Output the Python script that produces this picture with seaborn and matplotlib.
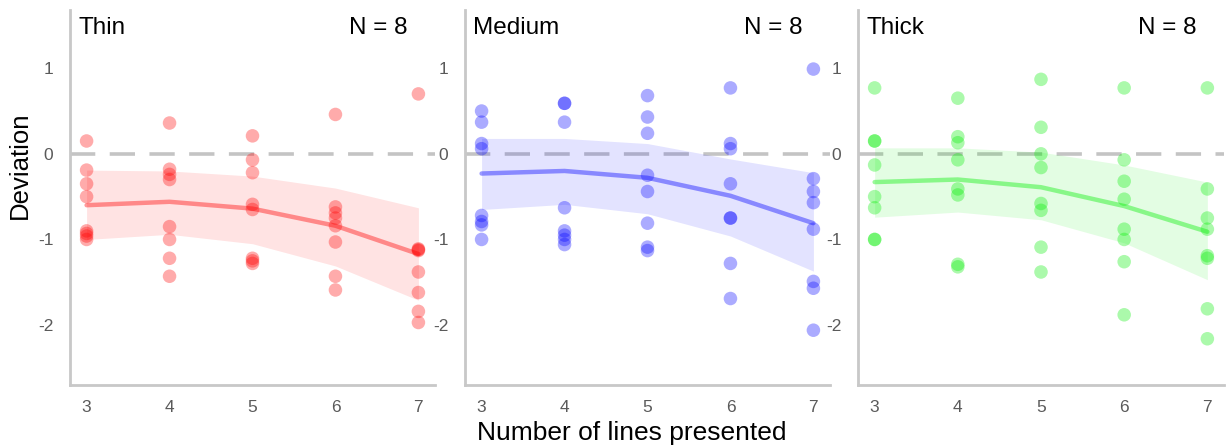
import numpy as np
import pandas as pd
import matplotlib
matplotlib.use("Agg")
import matplotlib.pyplot as plt
import seaborn as sns

sns.set_style("white")
plt.rcParams['font.family'] = ['Liberation Sans', 'DejaVu Sans']
plt.rcParams['axes.unicode_minus'] = False

conditions = ["Thin", "Medium", "Thick"]
n_lines = [3, 4, 5, 6, 7]
colors = {"Thin": "#ff0000", "Medium": "#0000ff", "Thick": "#00ee00"}

# individual participant deviations (8 per set size)
thin_vals = {
    3: [0.15, -0.19, -0.35, -0.50, -0.90, -0.93, -0.96, -1.00],
    4: [0.36, -0.18, -0.24, -0.30, -0.85, -1.00, -1.22, -1.43],
    5: [0.21, -0.07, -0.22, -0.59, -0.65, -1.22, -1.25, -1.28],
    6: [0.46, -0.62, -0.69, -0.75, -0.84, -1.03, -1.43, -1.59],
    7: [0.70, -1.11, -1.12, -1.13, -1.38, -1.62, -1.84, -1.97],
}
medium_vals = {
    3: [0.50, 0.37, 0.12, 0.06, -0.72, -0.79, -0.83, -1.00],
    4: [0.59, 0.59, 0.37, -0.63, -0.90, -0.95, -1.00, -1.06],
    5: [0.68, 0.43, 0.24, -0.25, -0.44, -0.81, -1.09, -1.13],
    6: [0.77, 0.12, 0.06, -0.35, -0.75, -0.75, -1.28, -1.69],
    7: [0.99, -0.29, -0.44, -0.57, -0.88, -1.49, -1.57, -2.06],
}
thick_vals = {
    3: [0.77, 0.15, 0.15, -0.13, -0.50, -0.63, -1.00, -1.00],
    4: [0.65, 0.20, 0.13, -0.07, -0.41, -0.48, -1.29, -1.32],
    5: [0.87, 0.31, 0.00, -0.16, -0.58, -0.66, -1.09, -1.38],
    6: [0.77, -0.07, -0.32, -0.53, -0.88, -1.00, -1.26, -1.88],
    7: [0.77, -0.41, -0.75, -0.88, -1.19, -1.22, -1.81, -2.16],
}

# model fit and confidence band
fit_mean = {
    "Thin":   [-0.60, -0.56, -0.64, -0.84, -1.17],
    "Medium": [-0.23, -0.20, -0.28, -0.49, -0.81],
    "Thick":  [-0.33, -0.30, -0.39, -0.61, -0.91],
}
fit_hi = {
    "Thin":   [-0.19, -0.20, -0.26, -0.40, -0.63],
    "Medium": [0.18, 0.18, 0.12, -0.06, -0.22],
    "Thick":  [0.07, 0.07, 0.02, -0.13, -0.33],
}
fit_lo = {
    "Thin":   [-1.00, -0.94, -1.05, -1.31, -1.71],
    "Medium": [-0.65, -0.59, -0.70, -0.96, -1.37],
    "Thick":  [-0.74, -0.68, -0.77, -1.04, -1.47],
}
n_label = "N = 8"
yticks = [-2, -1, 0, 1]

all_vals = {"Thin": thin_vals, "Medium": medium_vals, "Thick": thick_vals}
rows = []
for c in conditions:
    for n in n_lines:
        for v in all_vals[c][n]:
            rows.append({"cond": c, "n": n, "dev": v})
df = pd.DataFrame(rows)

fig = plt.figure(figsize=(12.3, 4.47), dpi=100)
lefts = [70, 465, 858]
rights = [435, 830, 1224]
W, H = 1230, 447
bottom_px, top_px = 385, 10

for i, c in enumerate(conditions):
    ax = fig.add_axes([lefts[i] / W, 1 - bottom_px / H,
                       (rights[i] - lefts[i]) / W, (bottom_px - top_px) / H])
    col = colors[c]
    ax.axhline(0, color="#c4c4c4", lw=2.6, ls=(0, (7, 4)), zorder=1)
    ax.fill_between(n_lines, fit_lo[c], fit_hi[c], color=col, alpha=0.11,
                    lw=0, zorder=2)
    fit_df = pd.DataFrame({"n": n_lines, "dev": fit_mean[c]})
    sns.lineplot(data=fit_df, x="n", y="dev", ax=ax, color=col, alpha=0.4,
                 lw=3.2, zorder=3)
    sns.scatterplot(data=df[df.cond == c], x="n", y="dev", ax=ax, color=col,
                    alpha=0.33, s=95, edgecolor="none", zorder=4)
    ax.set_xlim(2.8, 7.2)
    ax.set_ylim(-2.7, 1.68)
    ax.set_xticks(n_lines)
    ax.set_yticks(yticks)
    ax.tick_params(axis="both", length=0, labelsize=12.5, labelcolor="#5a5a5a")
    ax.tick_params(axis="y", pad=12)
    ax.tick_params(axis="x", pad=11)
    for s in ["top", "right"]:
        ax.spines[s].set_visible(False)
    for s in ["left", "bottom"]:
        ax.spines[s].set_color("#c8c8c8")
        ax.spines[s].set_linewidth(2)
    ax.set_xlabel("")
    ax.set_ylabel("")
    ax.text(0.022, 0.952, c, transform=ax.transAxes, fontsize=17.5,
            ha="left", va="center", color="black")
    ax.text(0.926, 0.952, n_label, transform=ax.transAxes, fontsize=17.5,
            ha="right", va="center", color="black")
    if i == 0:
        ax.set_ylabel("Deviation", fontsize=18.5, color="black")
        ax.yaxis.set_label_coords(-0.105, 0.585)

fig.text(632 / W, 1 - 433 / H, "Number of lines presented", fontsize=19,
         ha="center", va="center", color="black")

fig.savefig("out.png", dpi=100)
